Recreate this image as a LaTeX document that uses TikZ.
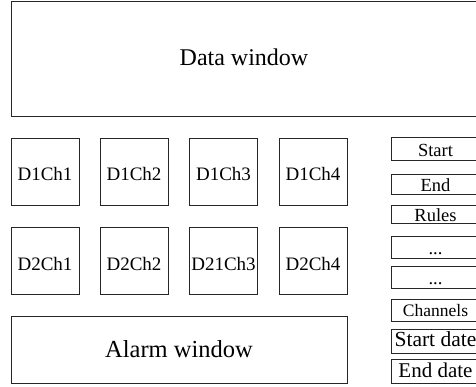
\documentclass[tikz,border=0pt]{standalone}
\usepackage{fontspec}
\setmainfont{Liberation Serif}
\begin{document}
\begin{tikzpicture}[x=1pt,y=-1pt,
  box/.style={draw=black!85,line width=0.9pt,rectangle,inner sep=0pt,align=center},
  winbox/.style={box,text height=16pt,text depth=1.6pt},
  chbox/.style={box,minimum width=68pt,minimum height=67pt,
    text height=20pt,text depth=1pt,font=\fontsize{19}{21}\selectfont},
  ctrl/.style={box,minimum width=89pt,text height=16.1pt,text depth=1.5pt,
    font=\fontsize{18.5}{20}\selectfont}]
  \clip (0,0) rectangle (476,387);
  % main data area
  \node[winbox,minimum width=466pt,minimum height=115pt,
    font=\fontsize{24}{26}\selectfont] (data) at (244,58.5) {Data window};
  % channel tiles, device 1
  \node[chbox] (d1c1) at (45,171.5) {D1Ch1};
  \node[chbox] (d1c2) at (134,171.5) {D1Ch2};
  \node[chbox] (d1c3) at (223.5,171.5) {D1Ch3};
  \node[chbox] (d1c4) at (313,171.5) {D1Ch4};
  % channel tiles, device 2
  \node[chbox] (d2c1) at (45,261) {D2Ch1};
  \node[chbox] (d2c2) at (134,261) {D2Ch2};
  \node[chbox] (d2c3) at (223.5,261) {D21Ch3};
  \node[chbox] (d2c4) at (313,261) {D2Ch4};
  % alarm area
  \node[winbox,minimum width=336pt,minimum height=67pt,text height=17pt,text depth=1.4pt,
    font=\fontsize{24.5}{26}\selectfont] (alarm) at (179,349.5) {Alarm window};
  % control buttons
  \node[ctrl,minimum height=23pt] (start) at (435.5,149) {Start};
  \node[ctrl,minimum height=20pt] (end) at (435.5,184.7) {End};
  \node[ctrl,minimum height=18.3pt] (rules) at (435.5,214.2) {Rules};
  \node[ctrl,minimum height=22.3pt] (more1) at (435.5,247.2) {...};
  \node[ctrl,minimum height=21.6pt] (more2) at (435.5,277.5) {...};
  \node[ctrl,minimum height=22pt,text height=15pt,text depth=1.6pt,
    font=\fontsize{17.5}{20}\selectfont] (chan) at (435.5,310) {Channels};
  \node[ctrl,minimum height=24pt,text height=14pt,text depth=3.2pt,
    font=\fontsize{21.5}{24}\selectfont] (sdate) at (435.5,341.3) {Start date};
  \node[ctrl,minimum height=24pt,text height=14.5pt,text depth=1.7pt,
    font=\fontsize{21}{24}\selectfont] (edate) at (435.5,371.3) {End date};
\end{tikzpicture}
\end{document}
